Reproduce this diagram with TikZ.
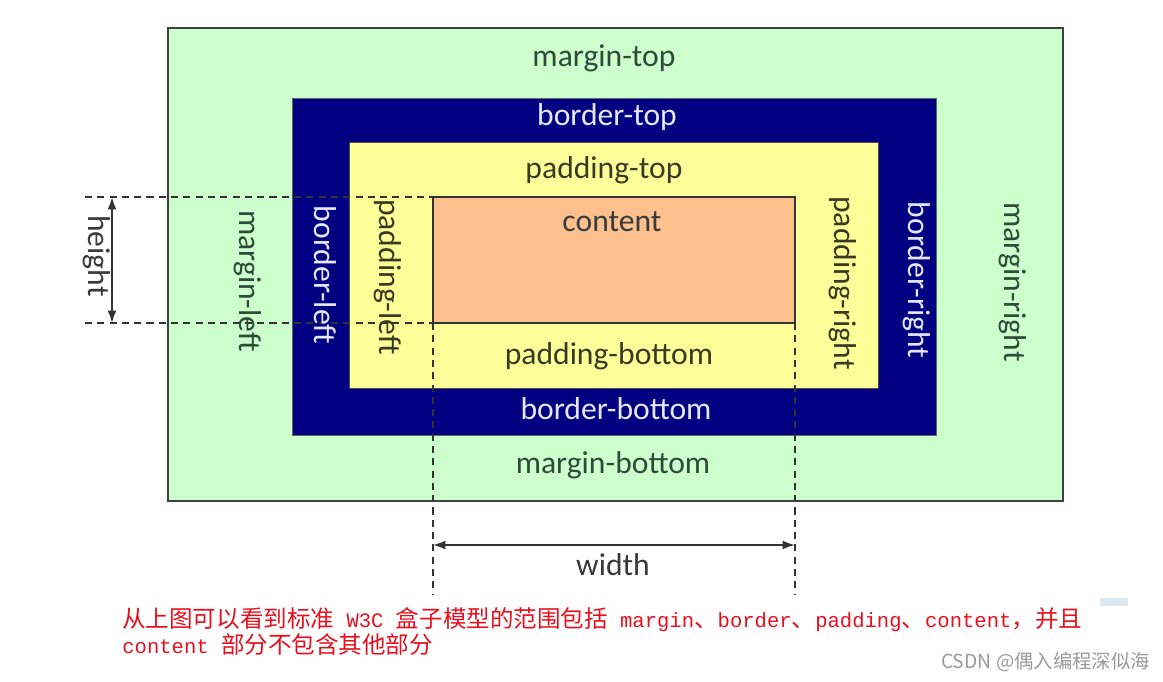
\documentclass[tikz,border=0pt]{standalone}
\usepackage{fontspec}
\setmainfont{Carlito}
\newfontfamily\cjk{Noto Sans CJK SC}
\newfontfamily\mono{Liberation Mono}
\newcommand\lat[1]{{\mono\fontsize{11.7}{14}\selectfont #1}}
\usetikzlibrary{arrows.meta}

\definecolor{marginbg}{HTML}{CCFFCC}
\definecolor{borderbg}{HTML}{000080}
\definecolor{paddingbg}{HTML}{FFFF99}
\definecolor{contentbg}{HTML}{FBC08E}
\definecolor{margintext}{HTML}{2F4A38}
\definecolor{paddingtext}{HTML}{3A3A22}
\definecolor{bordertext}{HTML}{E6E6FF}
\definecolor{contenttext}{HTML}{3A3A3A}
\definecolor{notered}{HTML}{E8101E}
\definecolor{markgray}{HTML}{9A9A9A}
\definecolor{tagblue}{HTML}{DCE8EE}

\begin{document}
\begin{tikzpicture}[x=0.02cm,y=-0.02cm,
  lbl/.style={font=\fontsize{18}{20}\selectfont, inner sep=0pt},
  vlbl/.style={lbl, rotate=-90},
  dimline/.style={draw=black!80, dash pattern=on 4pt off 3pt, line width=0.8pt},
  dimarrow/.style={draw=black!80, {Latex[length=7pt,width=5pt]}-{Latex[length=7pt,width=5pt]}, line width=1pt}]
\useasboundingbox[fill=white] (0,0) rectangle (1163,681);

% the four boxes
\draw[fill=marginbg, draw=black!75, line width=1pt] (168,28) rectangle (1063,501);
\draw[fill=borderbg, draw=black!60] (292,98) rectangle (936,435);
\draw[fill=paddingbg, draw=black!70] (349,142) rectangle (878,388);
\draw[fill=contentbg, draw=black!80, line width=0.9pt] (433,197) rectangle (795,323);

% content corners and free ends of the dimension lines
\coordinate (ctl) at (433,197);
\coordinate (cbl) at (433,323);
\coordinate (cbr) at (795,323);
\coordinate (htop) at (85,197);
\coordinate (hbot) at (85,323);
\coordinate (wleft) at (433,595);
\coordinate (wright) at (795,595);
\coordinate (ha) at (112,197);
\coordinate (hb) at (112,323);
\coordinate (wa) at (433,545);
\coordinate (wb) at (795,545);

\draw[dimline] (htop) -- (ctl);
\draw[dimline] (hbot) -- (cbl);
\draw[dimline] (cbl) -- (wleft);
\draw[dimline] (cbr) -- (wright);
\draw[dimarrow] (ha) -- (hb);
\draw[dimarrow] (wa) -- (wb);

% labels
\node[lbl, text=margintext] (mtop) at (604,58) {margin-top};
\node[lbl, text=bordertext] (btop) at (607,117) {border-top};
\node[lbl, text=paddingtext] (ptop) at (604,170) {padding-top};
\node[lbl, text=contenttext] (cont) at (612,222) {content};
\node[lbl, text=paddingtext] (pbot) at (609,356) {padding-bottom};
\node[lbl, text=bordertext] (bbot) at (616,409) {border-bottom};
\node[lbl, text=margintext] (mbot) at (613,465) {margin-bottom};
\node[vlbl, text=margintext] (mleft) at (248,281) {margin-left};
\node[vlbl, text=bordertext] (bleft) at (325,275) {border-left};
\node[vlbl, text=paddingtext] (pleft) at (388,277) {padding-left};
\node[vlbl, text=paddingtext] (pright) at (843,283) {padding-right};
\node[vlbl, text=bordertext] (bright) at (917,280) {border-right};
\node[vlbl, text=margintext] (mright) at (1013,282) {margin-right};
\node[vlbl, text=contenttext] (hlbl) at (97,256) {height};
\node[lbl, text=contenttext] (wlbl) at (613,565) {width};

% note under the picture
\node[anchor=west, inner sep=0pt, text=notered, font=\cjk\fontsize{13.4}{14}\selectfont] (note1) at (122,620)
  {从上图可以看到标准\lat{ W3C }盒子模型的范围包括\lat{ margin}、\lat{border}、\lat{padding}、\lat{content}，并且};
\node[anchor=west, inner sep=0pt, text=notered, font=\cjk\fontsize{13.4}{14}\selectfont] (note2) at (122,645)
  {\lat{content }部分不包含其他部分};
\fill[tagblue] (1100,598) rectangle (1128,606);
\node[anchor=east, inner sep=0pt, text=markgray, font=\cjk\fontsize{11}{12}\selectfont] (mark) at (1150,662)
  {CSDN @偶入编程深似海};
\end{tikzpicture}
\end{document}
